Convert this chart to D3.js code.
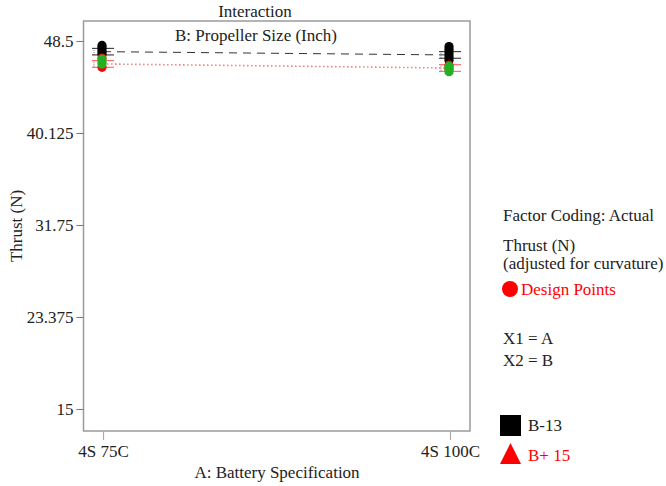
<!DOCTYPE html>
<html>
<head>
<meta charset="utf-8">
<script src="https://cdn.jsdelivr.net/npm/d3@7/dist/d3.min.js"></script>
<style>
  html, body { margin: 0; padding: 0; background: #fff; }
  svg { display: block; }
</style>
</head>
<body>
<svg id="chart" width="666" height="486"></svg>
<script>
// Factor A levels (battery specification)
const categories = ["4S 75C", "4S 100C"];
// Predicted thrust for each propeller size at each battery level
const lineB13 = [47.53, 47.23];
const lineB15 = [46.41, 46.04];
// Half-width of the LSD bars
const lsdHalf = [0.3, 0.3];
// Design points: black = B-13, red = B+ 15, green = overlapping runs
const pointsB13 = [[48.1, 47.9, 47.7, 47.5, 47.3], [48.0, 47.75, 47.5, 47.25, 47.0, 46.75]];
const pointsB15 = [[46.95, 46.1], [46.3, 45.95]];
const pointsMix = [[46.85, 46.6, 46.4], [46.2, 45.95, 45.7]];
// Y axis ticks
const yTicks = [15, 23.375, 31.75, 40.125, 48.5];

const FONT = "'Liberation Serif', 'Times New Roman', serif";
const FS = 17;
const svg = d3.select("#chart");
const frame = { left: 83.5, right: 470, top: 21, bottom: 431 };

const x = d3.scalePoint().domain(categories).range([103, 450]);
const y = d3.scaleLinear().domain([13.0, 50.32]).range([frame.bottom, frame.top]);

function label(parent, xp, yp, txt, opts = {}) {
  return parent.append("text").attr("x", xp).attr("y", yp)
    .attr("text-anchor", opts.anchor || "start")
    .attr("fill", opts.color || "#222")
    .style("font-family", FONT).style("font-size", (opts.size || FS) + "px")
    .text(txt);
}

// Titles
label(svg, 255, 17, "Interaction", { anchor: "middle" });
label(svg, 256, 41, "B: Propeller Size (Inch)", { anchor: "middle" });

// Plot frame
svg.append("rect")
  .attr("x", frame.left).attr("y", frame.top)
  .attr("width", frame.right - frame.left).attr("height", frame.bottom - frame.top)
  .attr("fill", "none").attr("stroke", "#9a9a9a").attr("stroke-width", 1.5);

// Y axis
const yAxis = svg.append("g").attr("transform", `translate(${frame.left},0)`)
  .call(d3.axisLeft(y).tickValues(yTicks).tickSize(7).tickPadding(3).tickFormat(d => String(d)));
yAxis.select(".domain").remove();
yAxis.selectAll(".tick line").attr("stroke", "#777").attr("stroke-width", 1);
yAxis.selectAll(".tick text").attr("fill", "#222")
  .style("font-family", FONT).style("font-size", FS + "px");

// X axis
const xAxis = svg.append("g").attr("transform", `translate(0,${frame.bottom})`)
  .call(d3.axisBottom(x).tickSize(9).tickPadding(5));
xAxis.select(".domain").remove();
xAxis.selectAll(".tick line").attr("stroke", "#aaa").attr("stroke-width", 1.2);
xAxis.selectAll(".tick text").attr("fill", "#222")
  .style("font-family", FONT).style("font-size", FS + "px");

// Axis titles
label(svg, 0, 0, "Thrust (N)", { anchor: "middle" })
  .attr("transform", "translate(22,226) rotate(-90)");
label(svg, 277, 478, "A: Battery Specification", { anchor: "middle" });

// Interaction lines
const line = d3.line().x((d, i) => x(categories[i])).y(d => y(d));
svg.append("path").datum(lineB13).attr("d", line)
  .attr("fill", "none").attr("stroke", "#333").attr("stroke-width", 1)
  .attr("stroke-dasharray", "8,6");
svg.append("path").datum(lineB15).attr("d", line)
  .attr("fill", "none").attr("stroke", "#ff6060").attr("stroke-width", 1.6)
  .attr("stroke-dasharray", "1.6,2.4").attr("opacity", 0.8);

// LSD bars
function lsdBars(means, color) {
  means.forEach((m, i) => {
    const cx = x(categories[i]);
    const g = svg.append("g");
    g.append("line").attr("x1", cx - 9).attr("x2", cx - 9)
      .attr("y1", y(m - lsdHalf[i])).attr("y2", y(m + lsdHalf[i]))
      .attr("stroke", "#777").attr("stroke-width", 1).attr("stroke-dasharray", "1,1");
    [m - lsdHalf[i], m + lsdHalf[i]].forEach(v => {
      g.append("line").attr("x1", cx - 11).attr("x2", cx + 11)
        .attr("y1", y(v)).attr("y2", y(v))
        .attr("stroke", color).attr("stroke-width", 1);
    });
  });
}
lsdBars(lineB13, "#222");
lsdBars(lineB15, "#ff5050");

// Design points
function drawPoints(sets, color) {
  sets.forEach((vals, i) => {
    svg.append("g").selectAll("circle").data(vals).join("circle")
      .attr("cx", x(categories[i]) - 1).attr("cy", d => y(d)).attr("r", 4.6)
      .attr("fill", color);
  });
}
drawPoints(pointsB13, "#000");
drawPoints(pointsB15, "#ff0000");
drawPoints(pointsMix, "#22b022");

// Legend
const lg = svg.append("g");
label(lg, 503, 221, "Factor Coding: Actual");
label(lg, 503, 251, "Thrust (N)");
label(lg, 503, 269, "(adjusted for curvature)");
lg.append("circle").attr("cx", 510).attr("cy", 289).attr("r", 8).attr("fill", "#ff0000");
label(lg, 521, 295, "Design Points", { color: "#ff0000" });
label(lg, 503, 344, "X1 = A");
label(lg, 503, 366, "X2 = B");
lg.append("rect").attr("x", 500).attr("y", 415).attr("width", 21).attr("height", 21).attr("fill", "#000");
label(lg, 528, 431, "B-13");
lg.append("path").attr("d", "M510.5,443 L521,464 L500,464 Z").attr("fill", "#ff0000");
label(lg, 528, 461, "B+ 15", { color: "#ff0000" });
</script>
</body>
</html>
